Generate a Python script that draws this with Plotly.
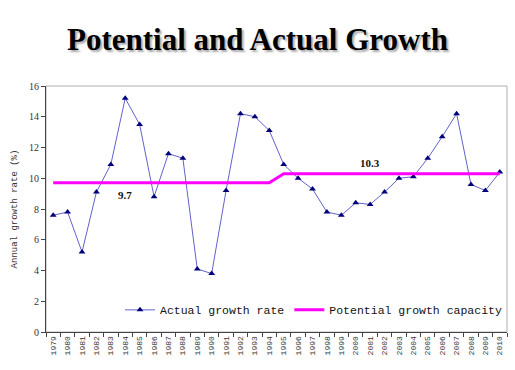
import plotly.graph_objects as go

years = [str(y) for y in range(1979, 2011)]
actual = [7.6, 7.8, 5.2, 9.1, 10.9, 15.2, 13.5, 8.8, 11.6, 11.3, 4.1, 3.8,
          9.2, 14.2, 14.0, 13.1, 10.9, 10.0, 9.3, 7.8, 7.6, 8.4, 8.3, 9.1,
          10.0, 10.1, 11.3, 12.7, 14.2, 9.6, 9.2, 10.4]
potential = [9.7] * 16 + [10.3] * 16
label_years = ["1984", "2001"]
label_values = [9.7, 10.3]
label_texts = ["9.7", "10.3"]
label_shifts = [-12, 11]
y_ticks = list(range(0, 17, 2))

fig = go.Figure()
fig.add_trace(go.Scatter(
    x=years, y=actual, mode="lines+markers", name="Actual growth rate",
    line=dict(color="#6262cc", width=1),
    marker=dict(symbol="triangle-up", size=6, color="#00007a"),
))
fig.add_trace(go.Scatter(
    x=years, y=potential, mode="lines", name="Potential growth capacity",
    line=dict(color="#ff00ff", width=3),
))

for yr, val, txt, sh in zip(label_years, label_values, label_texts, label_shifts):
    fig.add_annotation(x=years.index(yr), y=val, xref="x", yref="y",
                       text="<b>" + txt + "</b>", showarrow=False, yshift=sh,
                       font=dict(family="Liberation Serif", size=11, color="#111"))

# box border (top/right grey)
fig.add_shape(type="rect", xref="paper", yref="paper", x0=0, y0=0, x1=1, y1=1,
              line=dict(color="#b0b0b0", width=1), layer="below")

fig.update_layout(
    width=515, height=370,
    margin=dict(l=46, r=8, t=86, b=38),
    paper_bgcolor="white", plot_bgcolor="white",
    title=dict(text="<b>Potential and Actual Growth</b>", x=0.5, xref="container",
               xanchor="center", y=0.895, yanchor="middle",
               font=dict(family="Liberation Serif", size=31, color="black",
                         shadow="2px 2px 2px #aaaaaa")),
    showlegend=True,
    legend=dict(orientation="h", x=1, xanchor="right", y=0.09, yanchor="middle",
                bgcolor="rgba(0,0,0,0)",
                font=dict(family="Liberation Mono", size=11.5, color="#111"),
                tracegroupgap=0),
    xaxis=dict(type="category", range=[-0.5, 31.5], tickangle=-90,
               tickson="boundaries", ticks="outside", ticklen=4, tickcolor="#444",
               showline=True, linecolor="#444", linewidth=1, showgrid=False,
               tickfont=dict(family="Liberation Mono", size=8, color="#333")),
    yaxis=dict(range=[0, 16], tickvals=y_ticks, ticks="outside", ticklen=4,
               tickcolor="#444", showline=True, linecolor="#444", linewidth=1,
               showgrid=False, zeroline=False,
               tickfont=dict(family="Liberation Serif", size=10, color="#333"),
               title=dict(text="Annual growth rate (%)", standoff=9,
                          font=dict(family="Liberation Mono", size=9, color="#333"))),
)

fig.write_html("out.html", config={"displayModeBar": False},
               post_script="document.body.style.margin='0';document.body.style.overflow='hidden';")
